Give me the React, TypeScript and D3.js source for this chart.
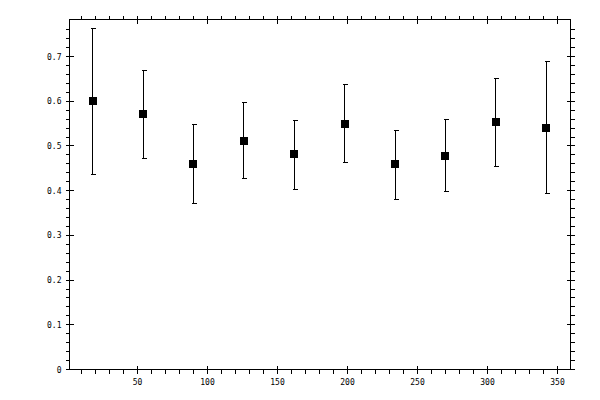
import React from "react";
import * as d3 from "d3";

const xs = [18, 54, 90, 126, 162, 198, 234, 270, 306, 342];
const means = [0.6, 0.571, 0.459, 0.512, 0.481, 0.55, 0.459, 0.477, 0.553, 0.541];
const upper = [0.763, 0.668, 0.548, 0.597, 0.558, 0.638, 0.535, 0.559, 0.651, 0.689];
const lower = [0.437, 0.473, 0.371, 0.428, 0.403, 0.464, 0.381, 0.397, 0.455, 0.394];
const xMajorTicks = [50, 100, 150, 200, 250, 300, 350];
const yMajorTicks = [0, 0.1, 0.2, 0.3, 0.4, 0.5, 0.6, 0.7];

const W = 600;
const H = 400;

export default function App() {
  const x = d3.scaleLinear().domain([1.43, 359.3]).range([69.5, 570.5]);
  const y = d3.scaleLinear().domain([0, 0.7828]).range([369.5, 19.5]);
  const [x0, x1] = x.range();
  const [y0, y1] = y.range();
  const xMinor = d3.range(10, 360, 10).filter((v) => v % 50 !== 0);
  const yMinor = d3.range(0.02, 0.78, 0.02).filter((v) => Math.abs(v * 10 - Math.round(v * 10)) > 1e-6);
  const font = "'DejaVu Sans Mono', monospace";
  const fmt = (v: number) => (v === 0 ? "0" : d3.format(".1f")(v));
  const px = (v: number) => Math.round(v - 0.5) + 0.5;

  return (
    <svg width={W} height={H} style={{ position: "absolute", left: 0, top: 0, background: "#fff" }} shapeRendering="crispEdges">
      <rect x={0} y={0} width={W} height={H} fill="#fff" />
      <g stroke="#000" strokeWidth={1} fill="none">
        <rect x={x0} y={y1} width={x1 - x0} height={y0 - y1} />
        {xMinor.map((v) => (
          <g key={"xm" + v}>
            <line x1={px(x(v))} x2={px(x(v))} y1={y0} y2={y0 + 4} />
            <line x1={px(x(v))} x2={px(x(v))} y1={y1} y2={y1 - 4} />
          </g>
        ))}
        {xMajorTicks.map((v) => (
          <g key={"xM" + v}>
            <line x1={px(x(v))} x2={px(x(v))} y1={y0 - 4} y2={y0 + 4} />
            <line x1={px(x(v))} x2={px(x(v))} y1={y1 - 4} y2={y1 + 4} />
          </g>
        ))}
        {yMinor.map((v) => (
          <g key={"ym" + v}>
            <line y1={px(y(v))} y2={px(y(v))} x1={x0} x2={x0 - 4} />
            <line y1={px(y(v))} y2={px(y(v))} x1={x1} x2={x1 + 4} />
          </g>
        ))}
        {yMajorTicks.map((v) => (
          <g key={"yM" + v}>
            <line y1={px(y(v))} y2={px(y(v))} x1={x0 - 4} x2={x0 + 4} />
            <line y1={px(y(v))} y2={px(y(v))} x1={x1 - 4} x2={x1 + 4} />
          </g>
        ))}
        {xs.map((v, i) => {
          const cx = px(x(v));
          return (
            <g key={"e" + i}>
              <line x1={cx} x2={cx} y1={px(y(upper[i]))} y2={px(y(lower[i]))} />
              <line x1={cx - 2} x2={cx + 3} y1={px(y(upper[i]))} y2={px(y(upper[i]))} />
              <line x1={cx - 2} x2={cx + 3} y1={px(y(lower[i]))} y2={px(y(lower[i]))} />
            </g>
          );
        })}
      </g>
      <g fill="#000">
        {xs.map((v, i) => (
          <rect key={"m" + i} x={Math.round(x(v)) - 4} y={Math.round(y(means[i])) - 4} width={8} height={8} />
        ))}
      </g>
      <g fontFamily={font} fontSize={8} fill="#000">
        {xMajorTicks.map((v) => (
          <text key={"xl" + v} x={x(v)} y={y0 + 15} textAnchor="middle">
            {v}
          </text>
        ))}
        {yMajorTicks.map((v) => (
          <text key={"yl" + v} x={x0 - 8} y={y(v) + 3} textAnchor="end">
            {fmt(v)}
          </text>
        ))}
      </g>
    </svg>
  );
}
